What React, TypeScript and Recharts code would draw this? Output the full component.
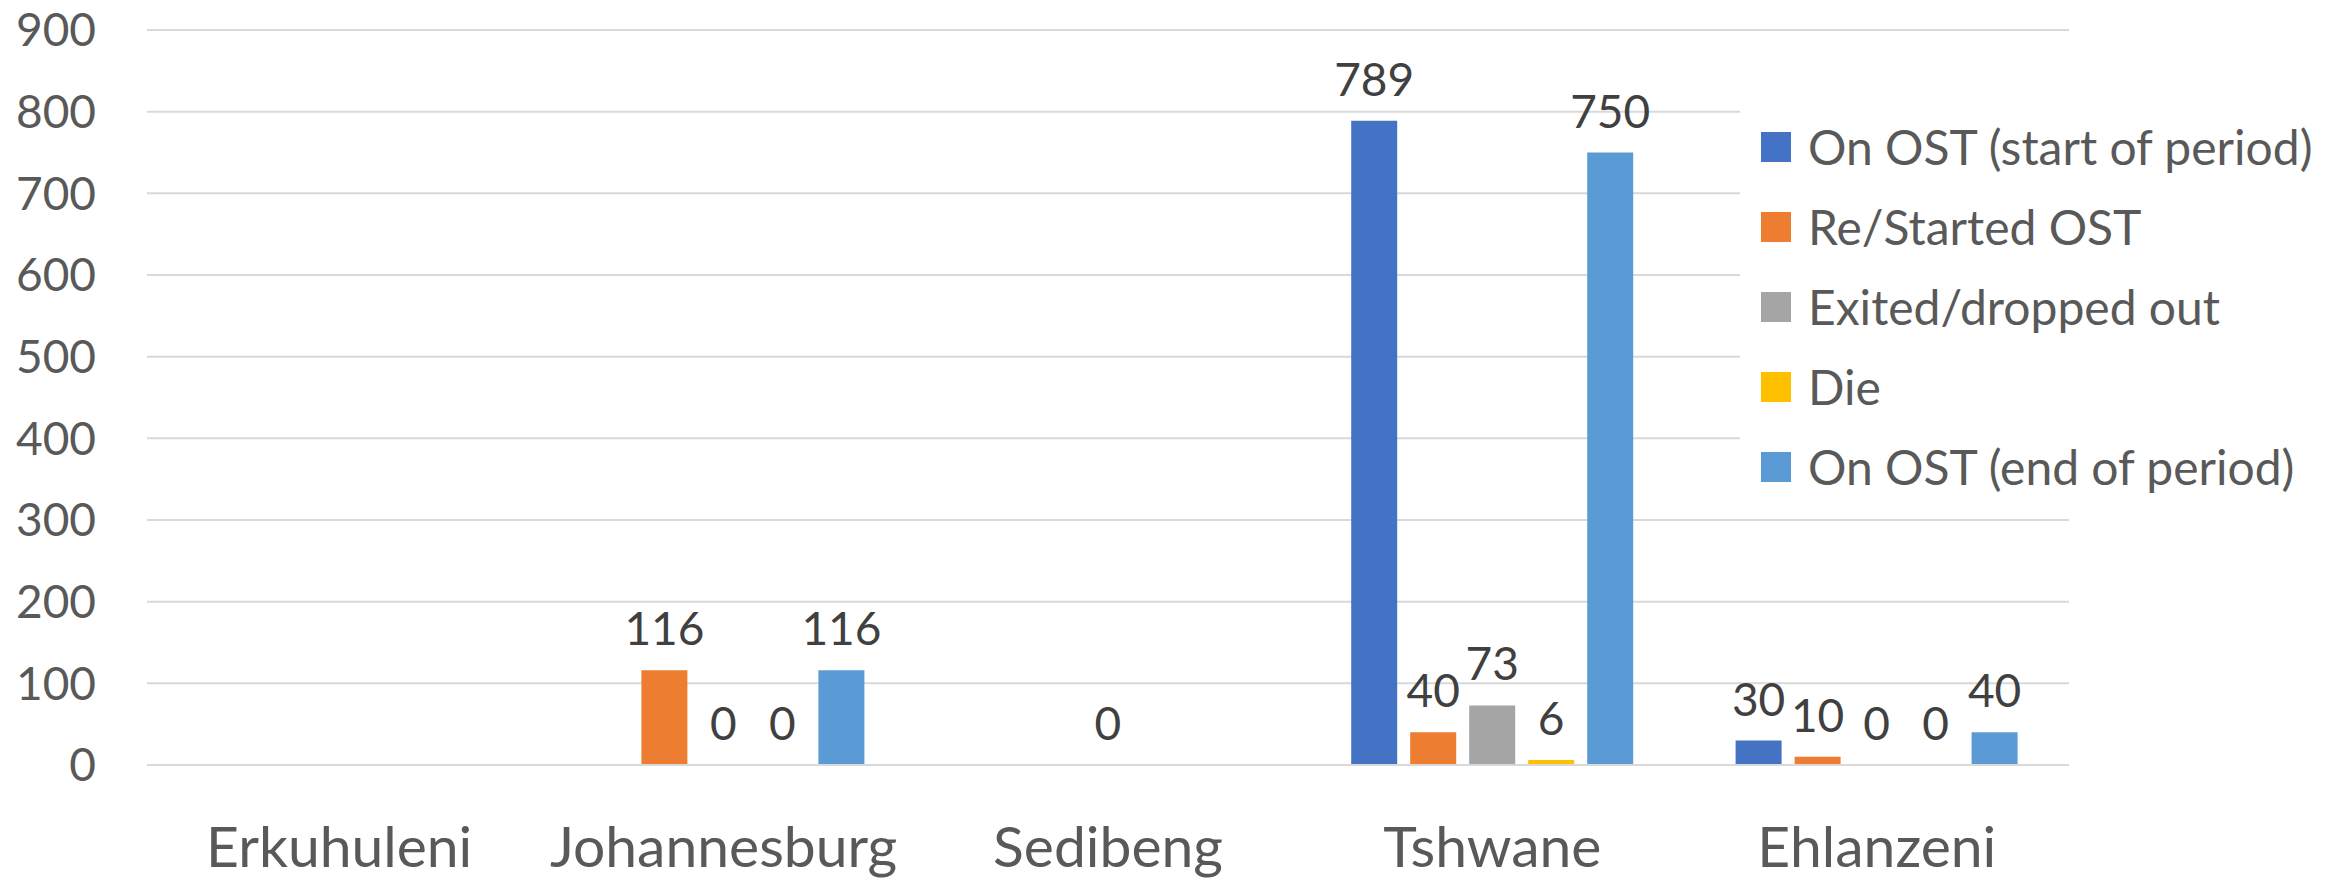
import { BarChart, Bar, XAxis, YAxis, CartesianGrid, Legend, LabelList } from "recharts";

// districts along the x axis
const categories = ["Erkuhuleni", "Johannesburg", "Sedibeng", "Tshwane", "Ehlanzeni"];

// one array per series, null = no bar / no label
const onStart = [null, null, null, 789, 30];
const restarted = [null, 116, null, 40, 10];
const exited = [null, 0, 0, 73, 0];
const died = [null, 0, null, 6, 0];
const onEnd = [null, 116, null, 750, 40];

const yTicks = [0, 100, 200, 300, 400, 500, 600, 700, 800, 900];

const series = [
  { key: "onStart", name: "On OST (start of period)", color: "#4472C4", values: onStart },
  { key: "restarted", name: "Re/Started OST", color: "#ED7D31", values: restarted },
  { key: "exited", name: "Exited/dropped out", color: "#A5A5A5", values: exited },
  { key: "died", name: "Die", color: "#FFC000", values: died },
  { key: "onEnd", name: "On OST (end of period)", color: "#5B9BD5", values: onEnd },
];

const data = categories.map((name, i) => {
  const row: Record<string, string | number | null> = { name };
  series.forEach((s) => (row[s.key] = s.values[i]));
  return row;
});

const FONT = "Lato, 'Open Sans', sans-serif";

// legend keeps the series order (recharts sorts by name otherwise)
function LegendBox(props: any) {
  const items = [...(props.payload || [])].sort(
    (a: any, b: any) => series.findIndex((s) => s.name === a.value) - series.findIndex((s) => s.name === b.value)
  );
  return (
    <div style={{ background: "#fff", width: "100%", height: "100%", fontFamily: FONT }}>
      {items.map((it: any) => (
        <div key={it.value} style={{ display: "flex", alignItems: "center", height: 80 }}>
          <span
            style={{ display: "inline-block", width: 30, height: 30, background: it.color, marginLeft: 21, marginRight: 17 }}
          />
          <span style={{ fontSize: 48, color: "#595959", whiteSpace: "nowrap", lineHeight: 1 }}>{it.value}</span>
        </div>
      ))}
    </div>
  );
}

// label drawn above the bar; zero values still get a "0"
function ValueLabel(props: any) {
  const { x, y, width, value } = props;
  if (value === null || value === undefined) return null;
  return (
    <text
      x={x + width / 2}
      y={y - 25}
      textAnchor="middle"
      fontSize={46}
      fill="#404040"
      fontFamily={FONT}
    >
      {value}
    </text>
  );
}

// tiny height for zero values so the bar entry (and its label) exists
const zeroSize = (v: any) => (v === 0 ? 0.01 : 0);

export default function App() {
  return (
    <div style={{ position: "absolute", left: 0, top: 0, width: 2348, height: 880, background: "#fff" }}>
      <BarChart
        width={2348}
        height={880}
        data={data}
        margin={{ top: 30, right: 279, bottom: 0, left: 0 }}
        barSize={46}
        barGap={13}
      >
        <CartesianGrid vertical={false} stroke="#D9D9D9" strokeWidth={2} />
        <XAxis
          dataKey="name"
          height={115}
          axisLine={{ stroke: "#D9D9D9", strokeWidth: 2 }}
          tickLine={false}
          tickMargin={56}
          tick={{ fontSize: 57, fill: "#595959", fontFamily: FONT }}
          interval={0}
        />
        <YAxis
          width={147}
          domain={[0, 900]}
          ticks={yTicks}
          axisLine={false}
          tickLine={false}
          tickMargin={45}
          tick={{ fontSize: 46, fill: "#595959", fontFamily: FONT }}
        />
        <Legend
          layout="vertical"
          align="center"
          verticalAlign="middle"
          content={<LegendBox />}
          wrapperStyle={{ left: 1740, top: 107, width: 608, height: 400 }}
        />
        {series.map((s) => (
          <Bar
            key={s.key}
            dataKey={s.key}
            name={s.name}
            fill={s.color}
            minPointSize={zeroSize}
            isAnimationActive={false}
          >
            <LabelList dataKey={s.key} content={<ValueLabel />} />
          </Bar>
        ))}
      </BarChart>
    </div>
  );
}
